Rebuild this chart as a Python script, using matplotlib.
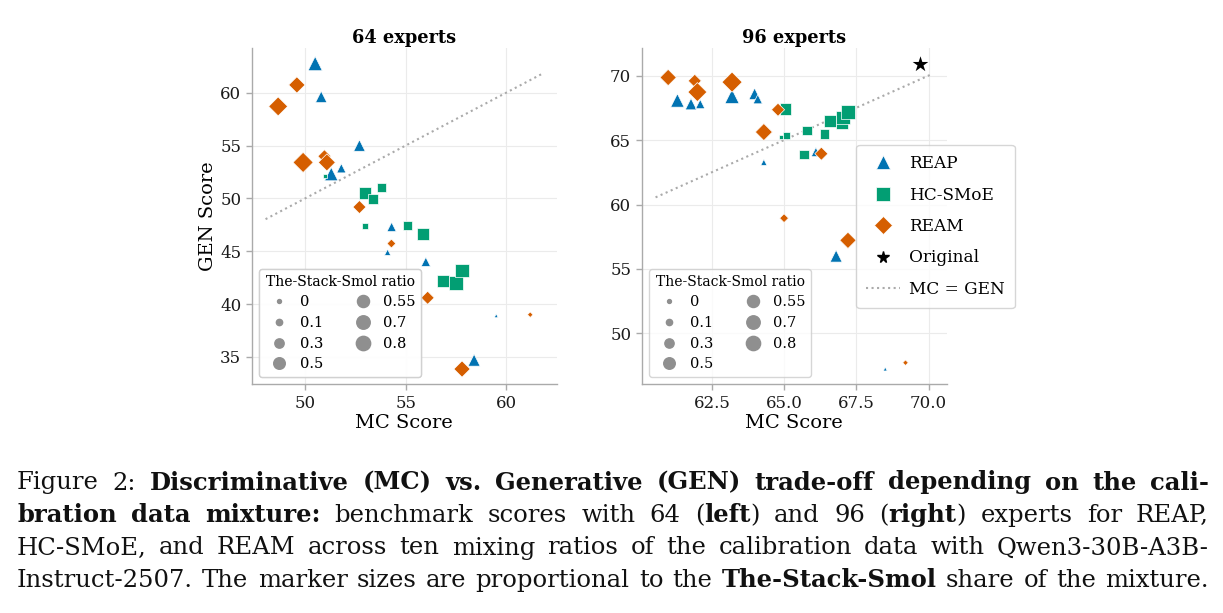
import matplotlib
matplotlib.use("Agg")
import matplotlib.pyplot as plt
from matplotlib.lines import Line2D
from matplotlib.ticker import MultipleLocator, FormatStrFormatter
import numpy as np

# ---------------- data ----------------
methods = ["REAP", "HC-SMoE", "REAM"]

# 64 experts
reap64_mc = [50.5, 50.8, 52.7, 51.8, 51.3, 54.3, 54.1, 56.0, 59.5, 58.4]
reap64_gen = [62.75, 59.6, 55.0, 52.85, 52.3, 47.3, 44.9, 44.0, 38.9, 34.7]
reap64_ratio = [0.8, 0.5, 0.5, 0.3, 0.7, 0.3, 0.1, 0.3, 0.0, 0.55]

hc64_mc = [50.99, 52.98, 53.38, 53.78, 52.98, 55.09, 55.88, 56.86, 57.49, 57.8]
hc64_gen = [52.08, 50.5, 49.93, 51.04, 47.4, 47.43, 46.6, 42.2, 42.0, 43.2]
hc64_ratio = [0.0, 0.5, 0.3, 0.3, 0.1, 0.3, 0.55, 0.5, 0.8, 0.7]

ream64_mc = [48.66, 49.59, 49.9, 50.96, 51.08, 52.7, 54.29, 56.09, 61.19, 57.8]
ream64_gen = [58.7, 60.73, 53.4, 53.98, 53.4, 49.18, 45.73, 40.6, 39.0, 33.86]
ream64_ratio = [0.7, 0.5, 0.8, 0.3, 0.55, 0.3, 0.1, 0.3, 0.0, 0.5]

# 96 experts
reap96_mc = [61.31, 61.78, 62.1, 63.2, 63.98, 64.09, 64.3, 66.1, 66.8, 68.5]
reap96_gen = [68.07, 67.79, 67.79, 68.38, 68.58, 68.17, 63.27, 64.07, 56.0, 47.24]
reap96_ratio = [0.7, 0.5, 0.3, 0.8, 0.5, 0.3, 0.1, 0.3, 0.55, 0.0]

hc96_mc = [65.05, 65.08, 64.89, 65.79, 65.69, 66.41, 66.6, 67.0, 67.04, 67.2]
hc96_gen = [67.42, 65.36, 65.26, 65.75, 63.87, 65.47, 66.44, 66.3, 66.75, 67.2]
hc96_ratio = [0.5, 0.1, 0.0, 0.3, 0.3, 0.3, 0.55, 0.5, 0.7, 0.8]

ream96_mc = [60.99, 61.91, 62.0, 63.2, 64.79, 64.3, 66.29, 65.0, 67.21, 69.2]
ream96_gen = [69.85, 69.59, 68.72, 69.49, 67.35, 65.62, 63.94, 58.94, 57.22, 47.73]
ream96_ratio = [0.5, 0.3, 0.7, 0.8, 0.3, 0.55, 0.3, 0.1, 0.5, 0.0]

orig_mc = [69.71]
orig_gen = [70.93]

legend_ratios = [0, 0.1, 0.3, 0.5, 0.55, 0.7, 0.8]
legend_ratio_labels = ["0", "0.1", "0.3", "0.5", "0.55", "0.7", "0.8"]

caption_lines = [
    "Figure 2: **Discriminative (MC) vs. Generative (GEN) trade-off depending on the cali-**",
    "**bration data mixture:** benchmark scores with 64 (**left**) and 96 (**right**) experts for REAP,",
    "HC-SMoE, and REAM across ten mixing ratios of the calibration data with Qwen3-30B-A3B-",
    "Instruct-2507. The marker sizes are proportional to the **The-Stack-Smol** share of the mixture.",
]

# ---------------- style ----------------
plt.rcParams["font.family"] = ["DejaVu Serif"]
colors = {"REAP": "#0173b2", "HC-SMoE": "#029e73", "REAM": "#d55e00"}
markers = {"REAP": "^", "HC-SMoE": "s", "REAM": "D"}
SPINE = "#aaaaaa"
GRID = "#ebebeb"
LEG_GRAY = "#8f8f8f"


def msize(r):
    return 8 + 122 * np.asarray(r, dtype=float)


W, H = 1223, 613
fig = plt.figure(figsize=(W / 100, H / 100), dpi=100)

ax1 = fig.add_axes([251.7 / W, 1 - 384.3 / H, 305 / W, 336 / H])
ax2 = fig.add_axes([641.7 / W, 1 - 384.3 / H, 305 / W, 336 / H])

panels = [
    (ax1, "64 experts",
     {"REAP": (reap64_mc, reap64_gen, reap64_ratio),
      "HC-SMoE": (hc64_mc, hc64_gen, hc64_ratio),
      "REAM": (ream64_mc, ream64_gen, ream64_ratio)}, False),
    (ax2, "96 experts",
     {"REAP": (reap96_mc, reap96_gen, reap96_ratio),
      "HC-SMoE": (hc96_mc, hc96_gen, hc96_ratio),
      "REAM": (ream96_mc, ream96_gen, ream96_ratio)}, True),
]

for ax, title, data, has_orig in panels:
    ax.set_axisbelow(True)
    ax.grid(True, color=GRID, lw=0.8)
    for s in ["top", "right"]:
        ax.spines[s].set_visible(False)
    for s in ["left", "bottom"]:
        ax.spines[s].set_color(SPINE)
        ax.spines[s].set_linewidth(1.0)
    ax.tick_params(axis="both", colors=SPINE, labelcolor="#1a1a1a",
                   labelsize=12, length=4, width=1.0)
    for m in methods:
        x, y, r = data[m]
        ax.scatter(x, y, s=msize(r), marker=markers[m], c=colors[m],
                   edgecolors="white", linewidths=0.5, zorder=3)
    if has_orig:
        ax.scatter(orig_mc, orig_gen, s=140, marker="*", c="black",
                   linewidths=0, zorder=4)
    lo, hi = ax.get_xlim()
    ax.plot([lo, hi], [lo, hi], ls=":", color="#aaaaaa", lw=1.5, zorder=2)
    ax.set_title(title, fontsize=12.8, fontweight="bold", pad=4)
    ax.set_xlabel("MC Score", fontsize=14, labelpad=2)

ax1.set_ylabel("GEN Score", fontsize=14, labelpad=2)
ax2.xaxis.set_major_locator(MultipleLocator(2.5))
ax2.xaxis.set_major_formatter(FormatStrFormatter("%.1f"))

# size legends
for ax in (ax1, ax2):
    handles = [Line2D([], [], marker="o", ls="", color=LEG_GRAY, mec=LEG_GRAY,
                      markersize=float(np.sqrt(msize(r)))) for r in legend_ratios]
    leg = ax.legend(handles, legend_ratio_labels, title="The-Stack-Smol ratio",
                    ncol=2, loc="lower left", fontsize=10.5, title_fontsize=10,
                    frameon=True, borderaxespad=0.5, handletextpad=0.4,
                    columnspacing=1.7, labelspacing=0.45)
    leg.get_frame().set_edgecolor("#cccccc")
    ax.add_artist(leg)

# method legend (right panel)
mh = [Line2D([], [], marker=markers[m], ls="", color=colors[m],
             markersize=10 if m != "REAM" else 9.5, mec="white", mew=0.5) for m in methods]
mh.append(Line2D([], [], marker="*", ls="", color="black", markersize=8.5))
mh.append(Line2D([], [], ls=":", color="#aaaaaa", lw=1.5))
leg2 = ax2.legend(mh, methods + ["Original", "MC = GEN"], loc="upper left",
                  bbox_to_anchor=(0.703, 0.712), borderaxespad=0, fontsize=12.2,
                  labelspacing=0.85, frameon=True, handletextpad=0.5,
                  borderpad=0.6)
leg2.get_frame().set_edgecolor("#cccccc")


# ---------------- caption (justified) ----------------
def parse(line):
    words, cur, buf, bold, i = [], [], "", False, 0
    while i < len(line):
        if line.startswith("**", i):
            if buf:
                cur.append((buf, bold))
                buf = ""
            bold = not bold
            i += 2
            continue
        ch = line[i]
        if ch == " ":
            if buf:
                cur.append((buf, bold))
                buf = ""
            if cur:
                words.append(cur)
                cur = []
        else:
            buf += ch
        i += 1
    if buf:
        cur.append((buf, bold))
    if cur:
        words.append(cur)
    return words


renderer = fig.canvas.get_renderer()
CAP_FONT = "DejaVu Serif"
cap_size = 17.5
x_left, x_right = 17.0, 1209.0
baselines = [489.5, 522.0, 554.5, 587.0]

parsed = [parse(l) for l in caption_lines]


def measure(words, size):
    tot = 0.0
    for w in words:
        for txt, b in w:
            t = fig.text(0, 0, txt, fontsize=size, family=CAP_FONT,
                         fontweight="bold" if b else "normal")
            tot += t.get_window_extent(renderer).width
            t.remove()
    return tot


# shrink font if a line would overflow
while True:
    ok = True
    for words in parsed:
        nat = measure(words, cap_size)
        if nat + (len(words) - 1) * 0.22 * cap_size * 100 / 72 > (x_right - x_left):
            ok = False
    if ok:
        break
    cap_size -= 0.25

for words, yb in zip(parsed, baselines):
    texts = []
    widths = []
    for w in words:
        segs = []
        ww = 0.0
        for txt, b in w:
            t = fig.text(0, 1 - yb / H, txt, fontsize=cap_size, family=CAP_FONT,
                         fontweight="bold" if b else "normal", va="baseline",
                         ha="left", color="#111111")
            wd = t.get_window_extent(renderer).width
            segs.append((t, wd))
            ww += wd
        texts.append(segs)
        widths.append(ww)
    gap = (x_right - x_left - sum(widths)) / max(len(words) - 1, 1)
    x = x_left
    for segs, ww in zip(texts, widths):
        xx = x
        for t, wd in segs:
            t.set_x(xx / W)
            xx += wd
        x += ww + gap

fig.savefig("out.png", dpi=100)
